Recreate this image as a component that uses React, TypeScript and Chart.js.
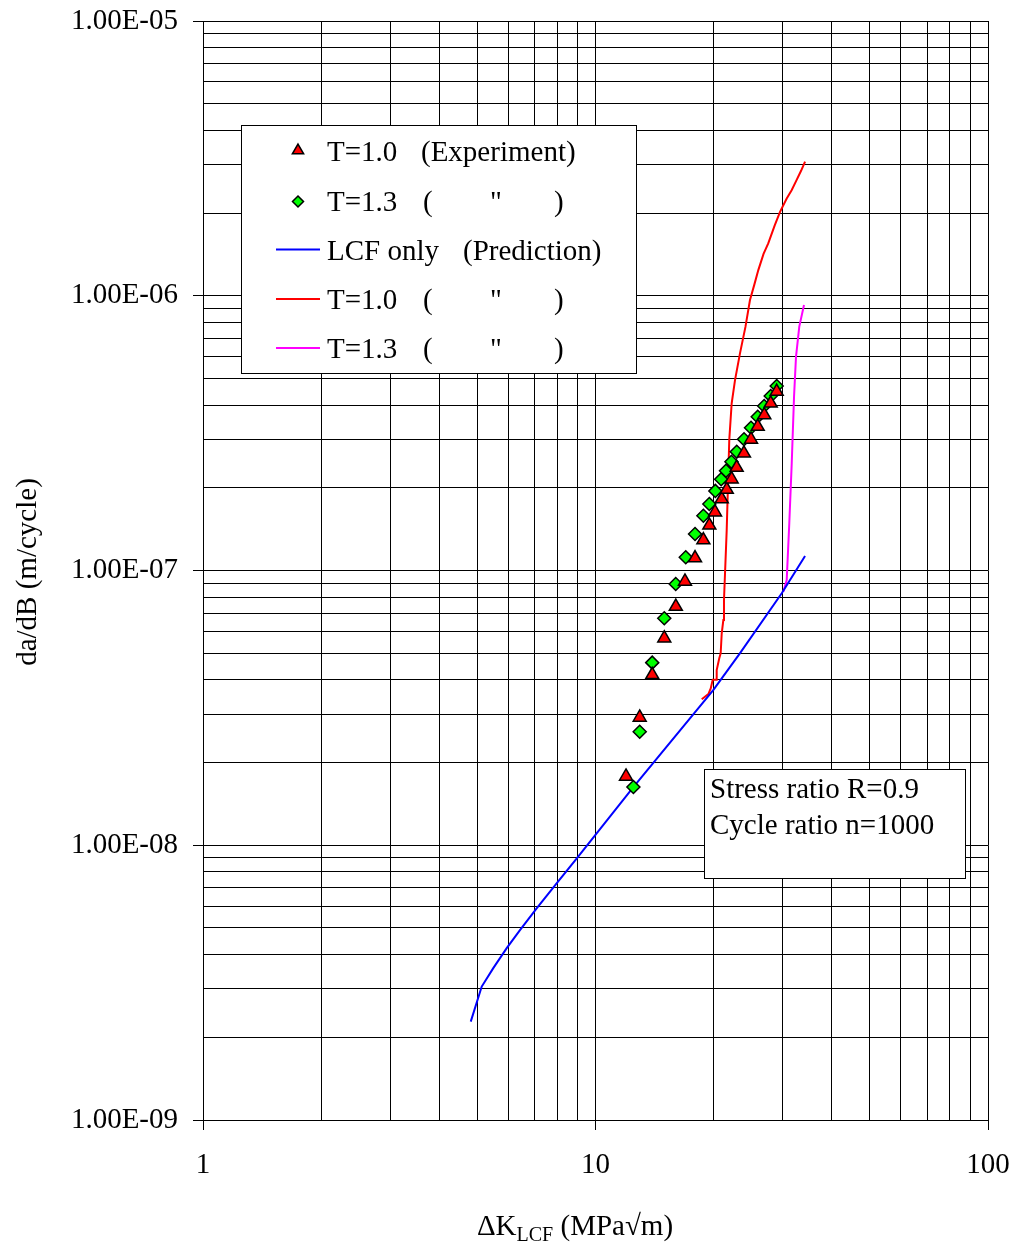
import React, { useEffect, useRef } from 'react';
import { Chart, registerables } from 'chart.js';

Chart.register(...registerables);

const FONT = "'Liberation Serif', 'Times New Roman', Times, serif";

// ---- data ----
const expT10K = [11.96, 12.96, 13.95, 14.97, 16.02, 16.9, 17.93, 18.83, 19.5, 20.16, 20.97, 21.6, 22.23, 22.89, 23.89, 24.9, 25.9, 26.92, 27.95, 28.95];
const expT10Rate = [1.78e-8, 2.92e-8, 4.17e-8, 5.67e-8, 7.39e-8, 9.12e-8, 1.11e-7, 1.29e-7, 1.46e-7, 1.63e-7, 1.82e-7, 1.97e-7, 2.15e-7, 2.37e-7, 2.67e-7, 3.0e-7, 3.34e-7, 3.68e-7, 4.06e-7, 4.48e-7];

const expT13K = [12.49, 12.96, 13.95, 14.97, 16.01, 16.98, 17.93, 18.83, 19.5, 20.2, 20.9, 21.5, 22.2, 22.9, 23.9, 24.9, 25.9, 26.9, 27.95, 28.95];
const expT13Rate = [1.63e-8, 2.59e-8, 4.62e-8, 6.7e-8, 8.93e-8, 1.117e-7, 1.358e-7, 1.583e-7, 1.746e-7, 1.948e-7, 2.148e-7, 2.307e-7, 2.489e-7, 2.706e-7, 3.003e-7, 3.309e-7, 3.629e-7, 3.969e-7, 4.316e-7, 4.692e-7];

const lcfK = [4.81, 5.13, 5.49, 5.94, 6.42, 7.08, 7.96, 8.96, 12.5, 19.95, 23.35, 29.82, 34.19];
const lcfRate = [2.28e-9, 3.06e-9, 3.57e-9, 4.22e-9, 4.91e-9, 5.89e-9, 7.27e-9, 8.96e-9, 1.63e-8, 3.67e-8, 5.0e-8, 8.26e-8, 1.13e-7];

const predT10K = [18.65, 19.39, 19.66, 19.89, 20.28, 20.36, 20.67, 20.84, 20.97, 21.17, 21.25, 21.59, 21.92, 22.23, 22.67, 23.34, 24.1, 24.75, 25.4, 25.99, 26.8, 27.55, 28.6, 29.52, 30.7, 31.6, 32.55, 33.4, 34.19];
const predT10Rate = [3.4e-8, 3.55e-8, 3.72e-8, 4.0e-8, 4.0e-8, 4.34e-8, 4.79e-8, 4.99e-8, 5.91e-8, 6.6e-8, 7.81e-8, 1.4e-7, 2.99e-7, 4.06e-7, 4.93e-7, 6.17e-7, 7.7e-7, 9.65e-7, 1.1e-6, 1.24e-6, 1.42e-6, 1.55e-6, 1.8e-6, 2.02e-6, 2.26e-6, 2.42e-6, 2.64e-6, 2.85e-6, 3.08e-6];

const predT13K = [30.1, 30.7, 31.17, 31.62, 32.05, 32.42, 33.05, 33.98];
const predT13Rate = [8.37e-8, 9.23e-8, 1.485e-7, 2.455e-7, 4.29e-7, 5.99e-7, 7.72e-7, 9.25e-7];

// ---- ticks ----
const xTickValues = [1, 2, 3, 4, 5, 6, 7, 8, 9, 10, 20, 30, 40, 50, 60, 70, 80, 90, 100];
const yTickValues = [
  1e-9, 2e-9, 3e-9, 4e-9, 5e-9, 6e-9, 7e-9, 8e-9, 9e-9,
  1e-8, 2e-8, 3e-8, 4e-8, 5e-8, 6e-8, 7e-8, 8e-8, 9e-8,
  1e-7, 2e-7, 3e-7, 4e-7, 5e-7, 6e-7, 7e-7, 8e-7, 9e-7,
  1e-6, 2e-6, 3e-6, 4e-6, 5e-6, 6e-6, 7e-6, 8e-6, 9e-6,
  1e-5,
];

// ---- legend / annotation text ----
const legendNames = ['T=1.0', 'T=1.3', 'LCF only', 'T=1.0', 'T=1.3'];
const legendNotes = ['(Experiment)', 'ditto', '(Prediction)', 'ditto', 'ditto'];
const noteLines = ['Stress ratio R=0.9', 'Cycle ratio n=1000'];

const isMajor = (v: number) => {
  const l = Math.log10(v);
  return Math.abs(l - Math.round(l)) < 1e-6;
};

const yLabel = (v: number) => {
  const e = Math.round(Math.log10(v));
  return '1.00E' + (e < 0 ? '-' : '+') + String(Math.abs(e)).padStart(2, '0');
};

const zip = (xs: number[], ys: number[]) => xs.map((x, i) => ({ x, y: ys[i] }));

function drawTriangle(ctx: CanvasRenderingContext2D, x: number, y: number, r: number) {
  ctx.beginPath();
  for (let i = 0; i < 3; i++) {
    const a = (i * 2 * Math.PI) / 3;
    const px = x + Math.sin(a) * r;
    const py = y - Math.cos(a) * r;
    if (i === 0) ctx.moveTo(px, py);
    else ctx.lineTo(px, py);
  }
  ctx.closePath();
  ctx.fill();
  ctx.stroke();
}

function drawDiamond(ctx: CanvasRenderingContext2D, x: number, y: number, r: number) {
  ctx.beginPath();
  ctx.moveTo(x, y - r);
  ctx.lineTo(x + r, y);
  ctx.lineTo(x, y + r);
  ctx.lineTo(x - r, y);
  ctx.closePath();
  ctx.fill();
  ctx.stroke();
}

const overlay = {
  id: 'overlay',
  afterDraw(chart: any) {
    const ctx: CanvasRenderingContext2D = chart.ctx;
    const ds = chart.data.datasets;
    ctx.save();

    // Legend box
    ctx.fillStyle = '#ffffff';
    ctx.fillRect(241.5, 125.5, 395, 248);
    ctx.strokeStyle = '#000000';
    ctx.lineWidth = 1;
    ctx.strokeRect(241.5, 125.5, 395, 248);

    const rowsY = [152, 201.5, 250.5, 300, 349];
    ctx.font = `29px ${FONT}`;
    ctx.textBaseline = 'alphabetic';
    ctx.textAlign = 'left';
    for (let i = 0; i < 5; i++) {
      const cy = rowsY[i];
      const d = ds[i];
      if (i === 0) {
        ctx.fillStyle = d.backgroundColor;
        ctx.strokeStyle = d.borderColor;
        ctx.lineWidth = d.borderWidth;
        drawTriangle(ctx, 298, cy - 1.5, 6.5);
      } else if (i === 1) {
        ctx.fillStyle = d.backgroundColor;
        ctx.strokeStyle = d.borderColor;
        ctx.lineWidth = d.borderWidth;
        drawDiamond(ctx, 298, cy, 5.5);
      } else {
        ctx.strokeStyle = d.borderColor;
        ctx.lineWidth = d.borderWidth;
        ctx.beginPath();
        ctx.moveTo(276, cy - 1);
        ctx.lineTo(320, cy - 1);
        ctx.stroke();
      }
      const base = cy + 9;
      ctx.fillStyle = '#000000';
      ctx.fillText(legendNames[i], 327, base);
      if (legendNotes[i] === 'ditto') {
        ctx.fillText('(', 423, base);
        ctx.fillText('"', 490, base);
        ctx.fillText(')', 554, base);
      } else if (i === 0) {
        ctx.fillText(legendNotes[i], 421, base);
      } else {
        ctx.fillText(legendNotes[i], 463, base);
      }
    }

    // annotation box
    ctx.fillStyle = '#ffffff';
    ctx.fillRect(704.5, 769.5, 261, 109);
    ctx.strokeStyle = '#000000';
    ctx.lineWidth = 1;
    ctx.strokeRect(704.5, 769.5, 261, 109);
    ctx.fillStyle = '#000000';
    ctx.fillText(noteLines[0], 710, 798);
    ctx.fillText(noteLines[1], 710, 834);

    // y title
    ctx.save();
    ctx.translate(36, 572);
    ctx.rotate(-Math.PI / 2);
    ctx.textAlign = 'center';
    ctx.fillText('da/dB (m/cycle)', 0, 0);
    ctx.restore();

    // x title with subscript
    const mainFont = `29px ${FONT}`;
    const subFont = `20px ${FONT}`;
    ctx.font = mainFont;
    const p1 = '\u0394K';
    const p3 = ' (MPa\u221Am)';
    const w1 = ctx.measureText(p1).width;
    const w3 = ctx.measureText(p3).width;
    ctx.font = subFont;
    const p2 = 'LCF';
    const w2 = ctx.measureText(p2).width;
    const total = w1 + w2 + w3;
    let x0 = 575 - total / 2;
    const baseY = 1235;
    ctx.textAlign = 'left';
    ctx.font = mainFont;
    ctx.fillText(p1, x0, baseY);
    x0 += w1;
    ctx.font = subFont;
    ctx.fillText(p2, x0, baseY + 6);
    x0 += w2;
    ctx.font = mainFont;
    ctx.fillText(p3, x0, baseY);

    ctx.restore();
  },
};

const zeroPad = (s: any) => {
  s.paddingTop = 0;
  s.paddingBottom = 0;
  s.paddingLeft = 0;
  s.paddingRight = 0;
};

export default function App() {
  const ref = useRef<HTMLCanvasElement>(null);

  useEffect(() => {
    document.body.style.margin = '0';
    const canvas = ref.current;
    if (!canvas) return;

    const tickColor = (c: any) => (c.tick && isMajor(c.tick.value) ? '#000000' : 'rgba(0,0,0,0)');

    const chart = new Chart(canvas, {
      type: 'scatter',
      data: {
        datasets: [
          {
            label: 'T=1.0 (Experiment)',
            data: zip(expT10K, expT10Rate),
            showLine: false,
            pointStyle: 'triangle',
            pointRadius: 7.5,
            backgroundColor: '#ff0000',
            borderColor: '#000000',
            borderWidth: 1.5,
          },
          {
            label: 'T=1.3 (Experiment)',
            data: zip(expT13K, expT13Rate),
            showLine: false,
            pointStyle: 'rectRot',
            pointRadius: 6.5,
            backgroundColor: '#00ff00',
            borderColor: '#000000',
            borderWidth: 1.5,
          },
          {
            label: 'LCF only (Prediction)',
            data: zip(lcfK, lcfRate),
            showLine: true,
            pointRadius: 0,
            borderColor: '#0000ff',
            backgroundColor: '#0000ff',
            borderWidth: 2,
            tension: 0,
          },
          {
            label: 'T=1.0 (Prediction)',
            data: zip(predT10K, predT10Rate),
            showLine: true,
            pointRadius: 0,
            borderColor: '#ff0000',
            backgroundColor: '#ff0000',
            borderWidth: 2,
            tension: 0,
          },
          {
            label: 'T=1.3 (Prediction)',
            data: zip(predT13K, predT13Rate),
            showLine: true,
            pointRadius: 0,
            borderColor: '#ff00ff',
            backgroundColor: '#ff00ff',
            borderWidth: 2,
            tension: 0,
          },
        ],
      },
      options: {
        responsive: false,
        animation: false,
        devicePixelRatio: 1,
        layout: { padding: { top: 21, right: 32, left: 0, bottom: 0 } },
        plugins: {
          legend: { display: false },
          tooltip: { enabled: false },
          title: { display: false },
        },
        scales: {
          x: {
            type: 'logarithmic',
            min: 1,
            max: 100,
            afterBuildTicks: (s: any) => {
              s.ticks = xTickValues.map((v) => ({ value: v, major: isMajor(v) }));
            },
            afterFit: (s: any) => {
              s.height = 126;
              zeroPad(s);
            },
            ticks: {
              autoSkip: false,
              maxRotation: 0,
              minRotation: 0,
              padding: 18,
              color: '#000000',
              font: { family: FONT, size: 29 },
              callback: (v: any) => (isMajor(Number(v)) ? String(Math.round(Number(v))) : ''),
            },
            grid: {
              color: '#000000',
              lineWidth: 1,
              tickLength: 10,
              tickColor: tickColor,
            },
            border: { color: '#000000', width: 1 },
          },
          y: {
            type: 'logarithmic',
            min: 1e-9,
            max: 1e-5,
            afterBuildTicks: (s: any) => {
              s.ticks = yTickValues.map((v) => ({ value: v, major: isMajor(v) }));
            },
            afterFit: (s: any) => {
              s.width = 203;
              zeroPad(s);
            },
            ticks: {
              autoSkip: false,
              padding: 15,
              color: '#000000',
              font: { family: FONT, size: 29 },
              callback: (v: any) => (isMajor(Number(v)) ? yLabel(Number(v)) : ''),
            },
            grid: {
              color: '#000000',
              lineWidth: 1,
              tickLength: 10,
              tickColor: tickColor,
            },
            border: { color: '#000000', width: 1 },
          },
        },
      },
      plugins: [overlay],
    } as any);

    return () => chart.destroy();
  }, []);

  return (
    <div style={{ width: 1020, height: 1246, background: '#ffffff' }}>
      <canvas ref={ref} width={1020} height={1246} style={{ display: 'block', width: 1020, height: 1246 }} />
    </div>
  );
}
